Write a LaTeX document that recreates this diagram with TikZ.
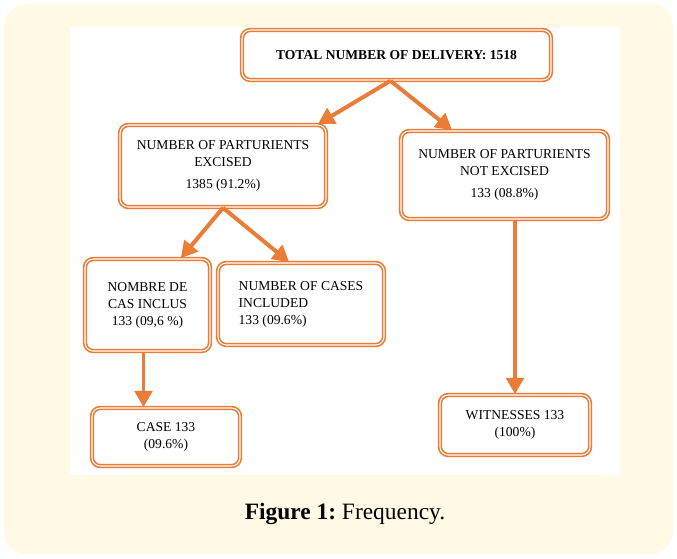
\documentclass[tikz,border=0pt]{standalone}
\usepackage{fontspec}
\setmainfont{Liberation Serif}
\usepackage{xcolor}
\usetikzlibrary{calc,arrows.meta,positioning}
\definecolor{boxorange}{HTML}{E97C36}
\definecolor{creambg}{HTML}{FFF9E6}
\tikzset{flowbox/.style={draw=boxorange,line width=1.4pt,double=white,double distance=0.9pt,rounded corners=7pt,fill=white,inner sep=2pt,font=\fontsize{11.6}{14.5}\selectfont,align=center},
flowarrow/.style={boxorange,line width=3.4pt,-{Triangle[length=14pt,width=15pt]}}}

\begin{document}
\begin{tikzpicture}[x=0.03cm,y=-0.03cm]

\useasboundingbox (0,0) rectangle (677,558);

% Background
\fill[creambg,rounded corners=22*0.03cm] (4,4) rectangle (673,554);
\fill[white] (70,27) rectangle (620,475);

% Nodes
\node[flowbox,minimum width=9.27cm,minimum height=1.5cm] (total) at (396.5,55) {\textbf{TOTAL NUMBER OF DELIVERY: 1518}};
\node[flowbox,minimum width=6.18cm,minimum height=2.46cm] (excised) at (223,166) {NUMBER OF PARTURIENTS\\EXCISED\\[5pt]1385 (91.2\%)};
\node[flowbox,minimum width=6.21cm,minimum height=2.64cm] (notexc) at (504.5,175) {NUMBER OF PARTURIENTS\\NOT EXCISED\\[5pt]133 (08.8\%)};
\node[flowbox,minimum width=3.75cm,minimum height=2.76cm] (inclus) at (147.5,305) {NOMBRE DE\\CAS INCLUS\\ 133 (09,6 \%)};
\node[flowbox,minimum width=4.98cm,minimum height=2.46cm,align=left] (cases) at (301,304) {NUMBER OF CASES\\INCLUDED\\133 (09.6\%)};
\node[flowbox,minimum width=4.44cm,minimum height=1.74cm] (case) at (166,437) {CASE 133\\(09.6\%)};
\node[flowbox,minimum width=4.5cm,minimum height=1.8cm] (witness) at (515,425) {WITNESSES 133\\(100\%)};

% Arrow ends
\coordinate (split) at ($(total.south)+(-6,0)$);
\coordinate (inclusout) at ($(inclus.south)+(-4,0)$);

% Arrows
\draw[flowarrow] (split) -- ($(excised.north east)+(-9,0)$);
\draw[flowarrow] (split) -- ($(notexc.north west)+(52,0)$);
\draw[flowarrow] (excised.south) -- ($(inclus.north east)+(-30,0)$);
\draw[flowarrow] (excised.south) -- ($(cases.north west)+(72,0)$);
\draw[flowarrow] (inclusout) -- (inclusout |- case.north);
\draw[flowarrow] (witness.north |- notexc.south) -- (witness.north);

% Caption
\node[font=\fontsize{20}{24}\selectfont] (caption) at (345,514) {\frenchspacing\textbf{Figure 1:} Frequency.};

\end{tikzpicture}
\end{document}
